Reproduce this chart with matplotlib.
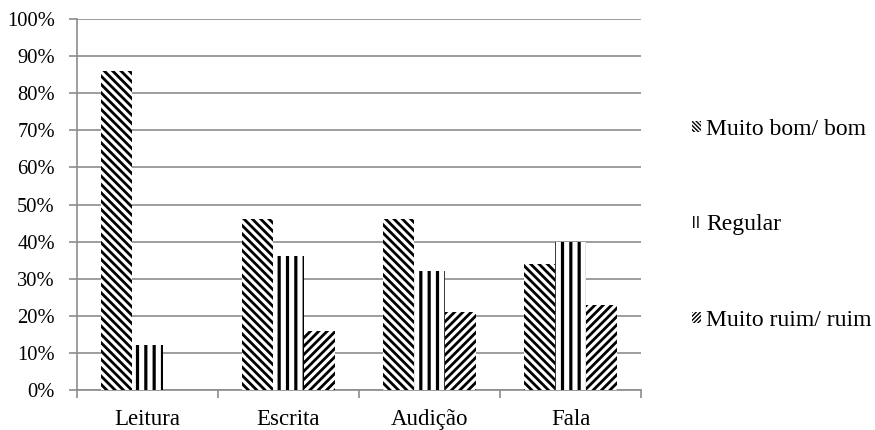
import matplotlib
matplotlib.use("Agg")
import matplotlib.pyplot as plt
import numpy as np
from matplotlib.patches import Patch

plt.rcParams['font.family'] = ['Liberation Serif', 'DejaVu Serif']
plt.rcParams['hatch.color'] = 'black'

categories = ["Leitura", "Escrita", "Audição", "Fala"]
series_names = ["Muito bom/ bom", "Regular", "Muito ruim/ ruim"]
muito_bom = [86, 46, 46, 34]
regular = [12, 36, 32, 40]
muito_ruim = [0, 16, 21, 23]
y_ticks = [0, 10, 20, 30, 40, 50, 60, 70, 80, 90, 100]

series = [muito_bom, regular, muito_ruim]
hatches = ['\\\\\\\\', '||', '////']
hatch_widths = [2.0, 2.3, 2.0]
# denser patterns for the small legend swatches
key_hatches = ['\\\\\\\\\\\\\\\\', '||||', '////////']
key_widths = [1.3, 1.7, 1.3]

fig = plt.figure(figsize=(8.75, 4.3), dpi=100)
ax = fig.add_axes([0.088, 0.093, 0.7326 - 0.088, 0.9558 - 0.093])

grid_color = '#8c8c8c'
x = np.arange(len(categories))
width = 0.222
for i, (vals, h, hw) in enumerate(zip(series, hatches, hatch_widths)):
    with plt.rc_context({'hatch.linewidth': hw}):
        ax.bar(x + (i - 1) * width, vals, width, color='white', edgecolor='black',
               hatch=h, linewidth=0, zorder=3)

ax.set_xlim(-0.5, len(categories) - 0.5)
ax.set_ylim(0, 100)
ax.set_yticks(y_ticks)
ax.set_yticklabels([f"{v}%" for v in y_ticks])
ax.yaxis.grid(True, color=grid_color, linewidth=1.2, zorder=0)
ax.set_axisbelow(True)

# category ticks sit on the boundaries between groups
ax.set_xticks(np.arange(len(categories) + 1) - 0.5)
ax.set_xticklabels([])
ax.set_xticks(x, minor=True)
ax.set_xticklabels(categories, minor=True)
ax.tick_params(axis='x', which='minor', length=0, pad=14, labelsize=16.5)
ax.tick_params(axis='x', which='major', length=6, color=grid_color, width=1.2)
ax.tick_params(axis='y', length=6, color=grid_color, width=1.2, labelsize=14.8, pad=10)

for s in ['top', 'right']:
    ax.spines[s].set_visible(False)
for s in ['left', 'bottom']:
    ax.spines[s].set_color(grid_color)
    ax.spines[s].set_linewidth(1.2)

handles = []
for h, hw in zip(key_hatches, key_widths):
    with plt.rc_context({'hatch.linewidth': hw}):
        handles.append(Patch(facecolor='white', edgecolor='black', hatch=h, linewidth=0))
ax.legend(handles, series_names, loc='center left', bbox_to_anchor=(1.074, 0.445),
          frameon=False, fontsize=17, handlelength=0.38, handleheight=0.38,
          handletextpad=0.2, labelspacing=3.15, borderaxespad=0)

fig.savefig("out.png", dpi=100)
